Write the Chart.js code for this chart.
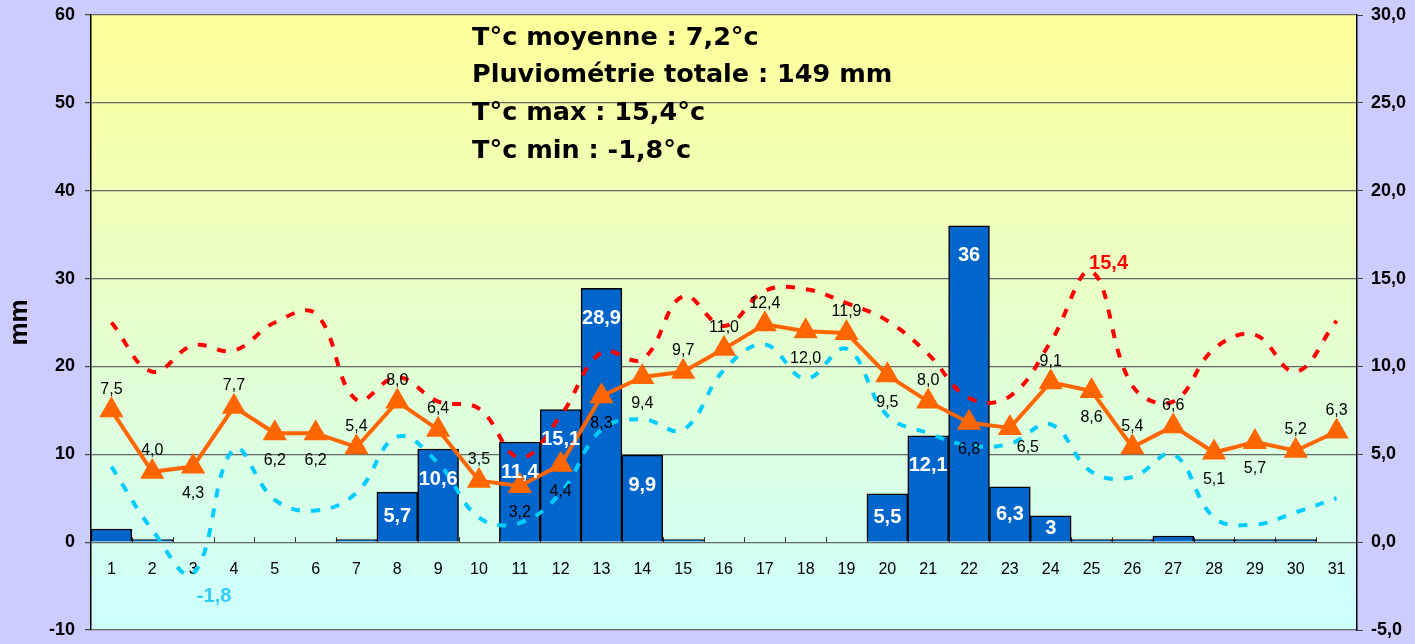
<!DOCTYPE html>
<html>
<head>
<meta charset="utf-8">
<script src="https://cdn.jsdelivr.net/npm/chart.js@4.4.1/dist/chart.umd.min.js"></script>
<style>
  html, body { margin: 0; padding: 0; background: #CCCCFF; overflow: hidden; }
  #meteo { display: block; }
</style>
</head>
<body>
<canvas id="meteo" width="1415" height="644"></canvas>
<script>
// Données du mois
const jours = ['1','2','3','4','5','6','7','8','9','10','11','12','13','14','15','16','17','18','19','20','21','22','23','24','25','26','27','28','29','30','31'];
const pluie = [1.5, 0.3, 0, 0, 0, 0, 0.3, 5.7, 10.6, 0, 11.4, 15.1, 28.9, 9.9, 0.3, 0, 0, 0, 0, 5.5, 12.1, 36, 6.3, 3, 0.3, 0.3, 0.7, 0.3, 0.3, 0.3, 0];
const tMoy = [7.5, 4.0, 4.3, 7.7, 6.2, 6.2, 5.4, 8.0, 6.4, 3.5, 3.2, 4.4, 8.3, 9.4, 9.7, 11.0, 12.4, 12.0, 11.9, 9.5, 8.0, 6.8, 6.5, 9.1, 8.6, 5.4, 6.6, 5.1, 5.7, 5.2, 6.3];
const tMax = [12.5, 9.7, 11.2, 10.9, 12.5, 13.0, 8.1, 9.4, 8.0, 7.6, 4.8, 7.2, 10.8, 10.4, 14.0, 12.3, 14.3, 14.4, 13.6, 12.6, 10.7, 8.2, 8.3, 11.4, 15.4, 8.9, 8.0, 11.0, 11.8, 9.7, 12.6];
const tMin = [4.3, 0.7, -1.8, 5.3, 2.4, 1.8, 2.8, 6.0, 4.5, 1.4, 1.1, 2.8, 6.4, 7.0, 6.4, 9.8, 11.25, 9.3, 11.0, 7.2, 6.2, 5.5, 5.6, 6.7, 4.0, 3.7, 5.0, 1.4, 1.0, 1.7, 2.5];
const ticksMm = [-10, 0, 10, 20, 30, 40, 50, 60];
const ticksTemp = [-5, 0, 5, 10, 15, 20, 25, 30];
const resume = ['T°c moyenne : 7,2°c', 'Pluviométrie totale : 149 mm', 'T°c max : 15,4°c', 'T°c min : -1,8°c'];

// Position des étiquettes de la moyenne (a = dessus, b = dessous, r = dessous à droite)
const cotesMoy = 'aababbaaaabbbbaaababab' + 'raba' + 'abbaa';

const virgule = v => v.toFixed(1).replace('.', ',');
const FONT = 'Liberation Sans, Arial, sans-serif';

// largeur fixe des axes verticaux, sans marge haute/basse
const fixeAxe = largeur => s => {
    s.width = largeur;
    s.paddingTop = 0;
    s.paddingBottom = 0;
};

// Fond : lavande + dégradé dans la zone de tracé
const fondPlugin = {
    id: 'fond',
    beforeDraw(chart) {
        const { ctx, chartArea: a } = chart;
        ctx.save();
        ctx.fillStyle = '#CCCCFF';
        ctx.fillRect(0, 0, chart.width, chart.height);
        const g = ctx.createLinearGradient(0, a.top, 0, a.bottom);
        g.addColorStop(0, '#FFFF99');
        g.addColorStop(1, '#CCFFFF');
        ctx.fillStyle = g;
        ctx.fillRect(a.left, a.top, a.right - a.left, a.bottom - a.top);
        ctx.restore();
    },
    beforeDatasetsDraw(chart) {
        // petites graduations de l'axe des catégories
        const { ctx, scales } = chart;
        const y0 = scales.y.getPixelForValue(0);
        const pas = scales.x.width / jours.length;
        ctx.save();
        ctx.strokeStyle = '#333';
        ctx.lineWidth = 1;
        for (let i = 1; i < jours.length; i++) {
            const x = Math.round(scales.x.left + i * pas) + 0.5;
            ctx.beginPath();
            ctx.moveTo(x, y0);
            ctx.lineTo(x, y0 - 5);
            ctx.stroke();
        }
        ctx.restore();
    }
};

// Étiquettes des valeurs et encadré de résumé
const etiquettesPlugin = {
    id: 'etiquettes',
    afterDatasetsDraw(chart) {
        const { ctx } = chart;
        ctx.save();
        ctx.textAlign = 'center';
        ctx.textBaseline = 'middle';

        // pluie
        const barres = chart.getDatasetMeta(0).data;
        ctx.fillStyle = '#FFFFFF';
        ctx.font = 'bold 20px ' + FONT;
        barres.forEach((b, i) => {
            if (pluie[i] < 3) return;
            const h = b.base - b.y;
            const y = h > 80 ? b.y + 30 : (b.y + b.base) / 2;
            const txt = Number.isInteger(pluie[i]) ? String(pluie[i]) : virgule(pluie[i]);
            ctx.fillText(txt, b.x, y);
        });

        // moyenne
        const pts = chart.getDatasetMeta(3).data;
        ctx.fillStyle = '#000000';
        ctx.font = '16px ' + FONT;
        pts.forEach((p, i) => {
            const c = cotesMoy[i];
            let dx = 0, dy = -21;
            if (c === 'b') dy = 27;
            if (c === 'r') { dx = 18; dy = 20; }
            ctx.fillText(virgule(tMoy[i]), p.x + dx, p.y + dy);
        });

        // extrêmes
        const iMax = tMax.indexOf(Math.max(...tMax));
        const iMin = tMin.indexOf(Math.min(...tMin));
        const pMax = chart.getDatasetMeta(1).data[iMax];
        const pMin = chart.getDatasetMeta(2).data[iMin];
        ctx.font = 'bold 20px ' + FONT;
        ctx.fillStyle = '#FF0000';
        ctx.fillText(virgule(tMax[iMax]), pMax.x + 17, pMax.y - 8);
        ctx.fillStyle = '#33CCFF';
        ctx.fillText(virgule(tMin[iMin]), pMin.x + 21, pMin.y + 23);

        // résumé
        ctx.textAlign = 'left';
        ctx.fillStyle = '#000000';
        ctx.font = 'bold 25.5px "DejaVu Sans", sans-serif';
        resume.forEach((t, i) => ctx.fillText(t, 472, 38 + i * 37.7));
        ctx.restore();
    }
};

const ctx = document.getElementById('meteo').getContext('2d');
new Chart(ctx, {
    data: {
        labels: jours,
        datasets: [
            {
                type: 'bar',
                label: 'Pluie',
                data: pluie,
                yAxisID: 'y',
                backgroundColor: '#0066CC',
                borderColor: '#000000',
                borderWidth: 1.5,
                barPercentage: 1,
                categoryPercentage: 1,
                order: 4
            },
            {
                type: 'line',
                label: 'T max',
                data: tMax,
                yAxisID: 'y1',
                borderColor: '#FF0000',
                borderWidth: 4,
                borderDash: [9, 11],
                pointRadius: 0,
                tension: 0.4,
                fill: false,
                order: 2
            },
            {
                type: 'line',
                label: 'T min',
                data: tMin,
                yAxisID: 'y1',
                borderColor: '#00CCFF',
                borderWidth: 4,
                borderDash: [9, 11],
                pointRadius: 0,
                tension: 0.4,
                fill: false,
                order: 3
            },
            {
                type: 'line',
                label: 'T moyenne',
                data: tMoy,
                yAxisID: 'y1',
                borderColor: '#FF6600',
                backgroundColor: '#FF6600',
                borderWidth: 4,
                pointStyle: 'triangle',
                pointRadius: 14,
                pointBorderWidth: 0,
                tension: 0,
                fill: false,
                order: 1
            }
        ]
    },
    options: {
        responsive: false,
        animation: false,
        devicePixelRatio: 1,
        layout: { padding: { top: 15, bottom: 11, left: 0, right: 0 } },
        plugins: {
            legend: { display: false },
            tooltip: { enabled: false }
        },
        scales: {
            x: {
                position: { y: 0 },
                grid: { display: false, drawTicks: false },
                border: { display: false },
                ticks: {
                    color: '#000',
                    font: { family: FONT, size: 16 },
                    padding: 18,
                    maxRotation: 0,
                    autoSkip: false
                }
            },
            y: {
                position: 'left',
                min: -10,
                max: 60,
                afterBuildTicks: s => { s.ticks = ticksMm.map(v => ({ value: v })); },
                afterFit: fixeAxe(91),
                grid: { color: '#666666', lineWidth: 1.2, tickLength: 6, tickColor: '#444' },
                border: { color: '#000', width: 1.5 },
                ticks: {
                    color: '#000',
                    autoSkip: false,
                    font: { family: FONT, size: 18, weight: 'bold' },
                    padding: 10
                },
                title: {
                    display: true,
                    text: 'mm',
                    color: '#000',
                    font: { family: FONT, size: 26, weight: 'bold' },
                    padding: { top: 4, bottom: 0 }
                }
            },
            y1: {
                position: 'right',
                min: -5,
                max: 30,
                afterBuildTicks: s => { s.ticks = ticksTemp.map(v => ({ value: v })); },
                afterFit: fixeAxe(58),
                grid: { drawOnChartArea: false, tickLength: 6, color: '#444' },
                border: { color: '#000', width: 1.5 },
                ticks: {
                    color: '#000',
                    autoSkip: false,
                    font: { family: FONT, size: 18, weight: 'bold' },
                    padding: 8,
                    callback: v => virgule(v)
                }
            }
        }
    },
    plugins: [fondPlugin, etiquettesPlugin]
});
</script>
</body>
</html>
